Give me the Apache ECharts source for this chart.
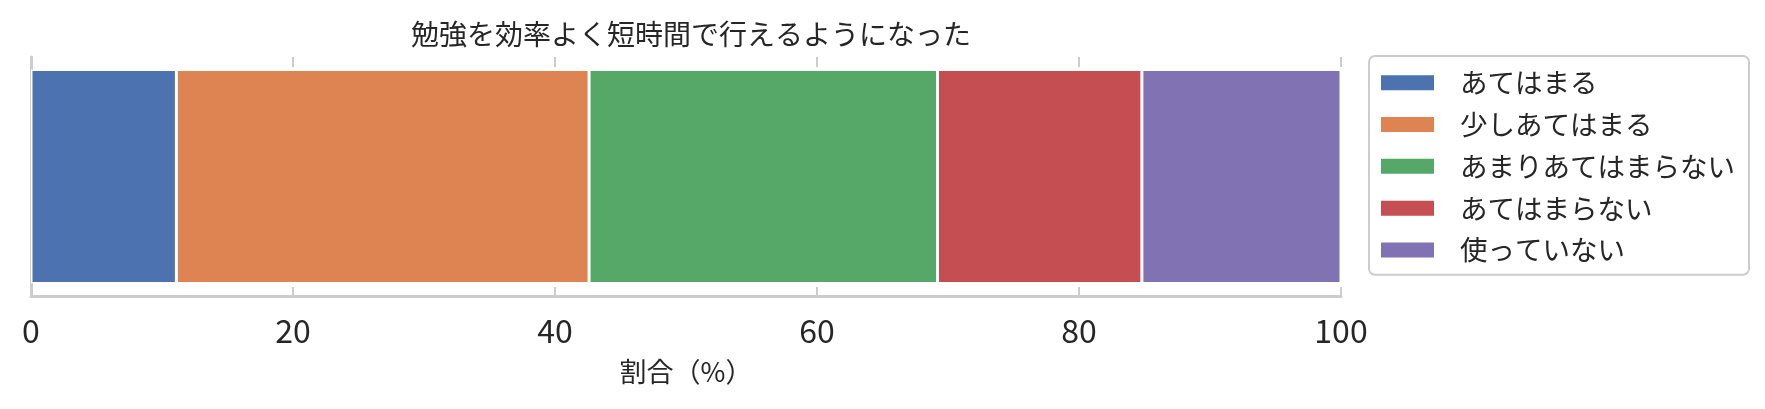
<!DOCTYPE html>
<html>
<head>
<meta charset="utf-8">
<script src="https://cdn.jsdelivr.net/npm/echarts@6/dist/echarts.min.js"></script>
<style>html,body{margin:0;padding:0;background:#fff;}#c{width:1765px;height:409px;}</style>
</head>
<body>
<div id="c"></div>
<script>
const titleText = '勉強を効率よく短時間で行えるようになった';
const categories = ['勉強を効率よく短時間で行えるようになった'];
const seriesNames = ['あてはまる', '少しあてはまる', 'あまりあてはまらない', 'あてはまらない', '使っていない'];
const seriesValues = [[11.1], [31.5], [26.6], [15.6], [15.2]];
const colors = ['#4C72B0', '#DD8452', '#55A868', '#C44E52', '#8172B3'];
const xTicks = [0, 20, 40, 60, 80, 100];
const xLabel = '割合（%）';

const FONT = '"Noto Sans CJK JP", "Noto Sans", sans-serif';
const TXT = '#262626';
const GRID = '#cccccc';

const chart = echarts.init(document.getElementById('c'), null, {renderer: 'canvas'});
const plotLeft = 31, plotRight = 1341;
chart.setOption({
  animation: false,
  color: colors,
  textStyle: {fontFamily: FONT},
  title: {
    text: titleText,
    left: (plotLeft + plotRight) / 2,
    textAlign: 'center',
    top: 15,
    textStyle: {fontFamily: FONT, fontSize: 28, fontWeight: 'normal', color: TXT}
  },
  legend: {
    orient: 'vertical',
    left: 1369,
    top: 56,
    padding: [13, 14, 11, 12],
    itemWidth: 53,
    itemHeight: 15,
    itemGap: 14.3,
    icon: 'rect',
    borderColor: GRID,
    borderWidth: 2,
    borderRadius: 6,
    textStyle: {fontFamily: FONT, fontSize: 27.5, color: TXT, lineHeight: 27.5, padding: [0, 0, 0, 21]},
    itemStyle: {borderWidth: 0},
    data: seriesNames
  },
  grid: {left: plotLeft, right: 1765 - plotRight, top: 57, bottom: 409 - 296, containLabel: false},
  xAxis: [{
    type: 'value', min: 0, max: 100, interval: 20, position: 'bottom',
    axisLine: {show: true, lineStyle: {color: GRID, width: 3}},
    axisTick: {show: true, inside: true, length: 9, lineStyle: {color: GRID, width: 2}},
    axisLabel: {fontFamily: FONT, fontSize: 32, color: TXT, margin: 19,
      formatter: v => xTicks.includes(v) ? String(v) : ''},
    splitLine: {show: false},
    name: xLabel, nameLocation: 'middle', nameGap: 62,
    nameTextStyle: {fontFamily: FONT, fontSize: 27, color: TXT}
  }, {
    type: 'value', min: 0, max: 100, interval: 20, position: 'top',
    axisLine: {show: false},
    axisTick: {show: true, inside: true, length: 10, lineStyle: {color: GRID, width: 2}},
    axisLabel: {show: false},
    splitLine: {show: false}
  }],
  yAxis: {
    type: 'category', data: categories,
    axisLine: {show: true, lineStyle: {color: GRID, width: 3}},
    axisTick: {show: false},
    axisLabel: {show: false},
    splitLine: {show: false}
  },
  series: seriesNames.map((n, i) => ({
    name: n, type: 'bar', stack: 'total', xAxisIndex: 0,
    data: seriesValues[i], barWidth: 214,
    itemStyle: {color: colors[i], borderColor: '#ffffff', borderWidth: 1.5}
  }))
});
</script>
</body>
</html>
